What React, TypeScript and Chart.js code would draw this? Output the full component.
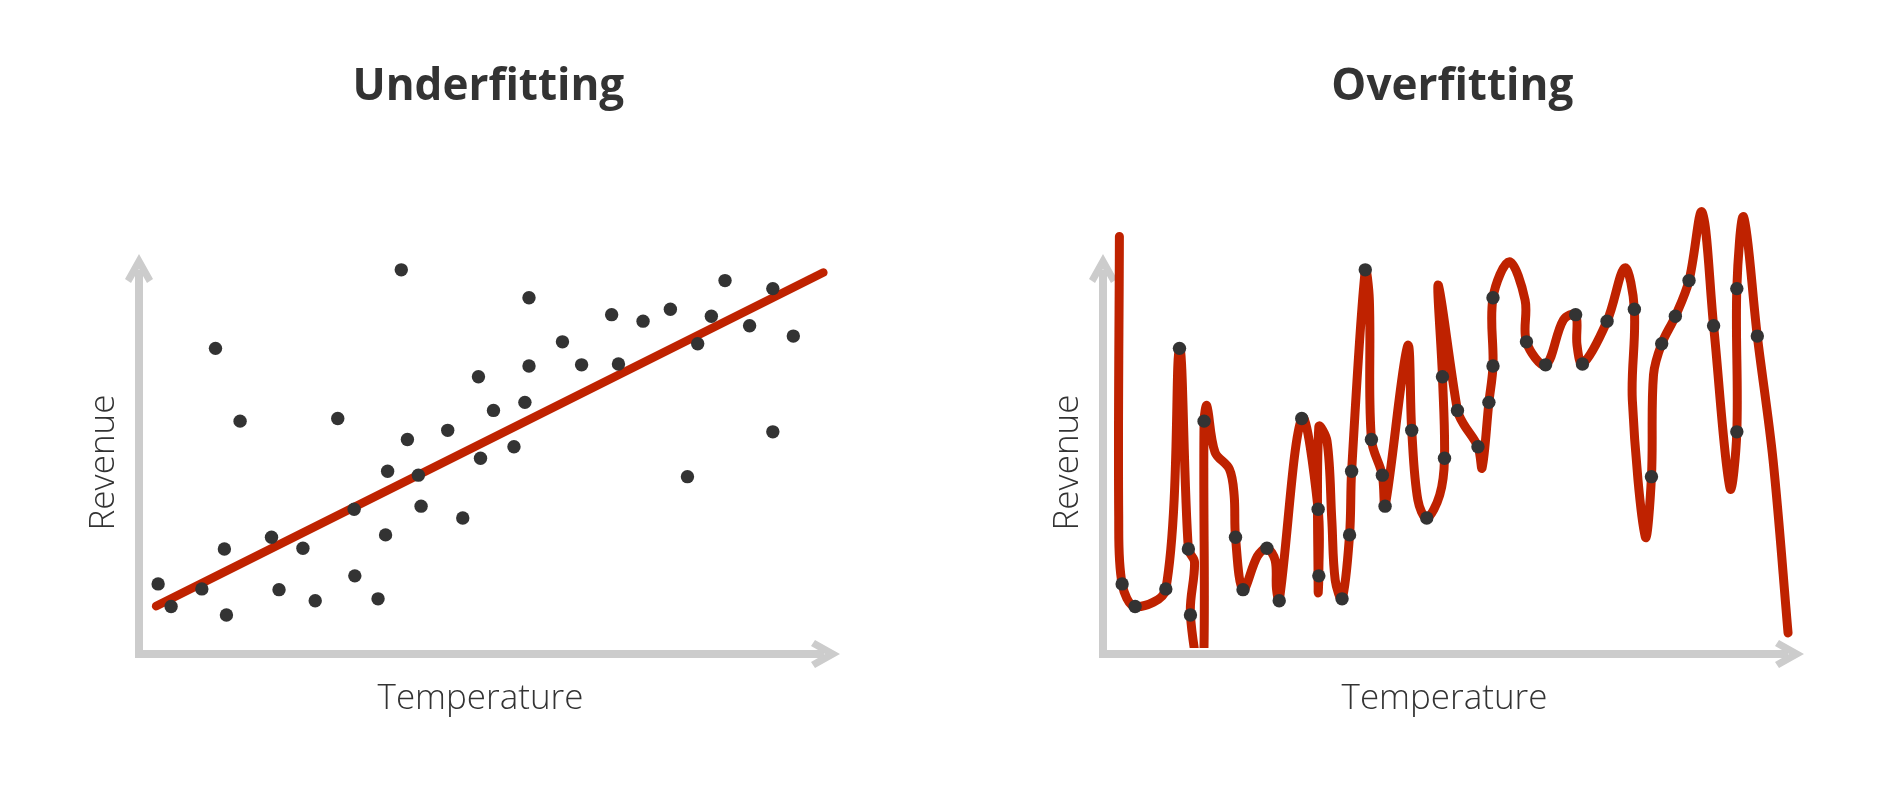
import React, { useEffect, useRef } from 'react';
import { Chart, registerables } from 'chart.js';

Chart.register(...registerables);

// ---- data ----
const chartTitles = ['Underfitting', 'Overfitting'];
const xAxisTitle = 'Temperature';
const yAxisTitle = 'Revenue';

// observed samples (same in both panels)
const observedTemperature = [
  2.8, 4.7, 9.2, 11.2, 12.5, 12.8, 14.8, 19.4, 20.5, 24.0, 25.8, 29.1, 31.5, 31.6, 35.0,
  36.1, 36.4, 38.4, 39.3, 40.9, 41.3, 45.2, 47.4, 49.7, 50.0, 51.9, 54.9, 56.5, 57.1, 57.1,
  62.0, 64.8, 69.2, 70.2, 73.8, 77.8, 80.3, 81.8, 83.8, 85.8, 89.4, 92.8, 92.8, 95.8,
];
const observedRevenue = [
  18.3, 12.4, 17.0, 79.8, 27.4, 10.2, 60.8, 30.5, 16.8, 27.6, 13.9, 61.5, 37.8, 20.4, 14.4,
  31.1, 47.7, 100.3, 56.0, 46.7, 38.6, 58.4, 35.5, 72.4, 51.1, 63.6, 54.1, 65.7, 75.2, 93.0,
  81.5, 75.5, 88.6, 75.7, 86.9, 90.0, 46.3, 81.0, 88.2, 97.5, 85.7, 95.4, 58.0, 83.0,
];

// underfit: straight line
const fitTemperature = [2.5, 100.2];
const fitRevenue = [12.5, 99.6];

// overfit: wiggly curve through every sample
const overfitTemperature = [
  2.4, 2.3, 2.8, 4.7, 9.2, 11.2, 12.5, 13.4, 12.8, 14.6, 14.8, 15.2, 16.4, 18.5, 19.2, 19.4,
  20.5, 22.6, 24.0, 25.2, 25.4, 25.8, 29.1, 31.5, 31.6, 31.5, 31.6, 32.8, 33.5, 34.0, 35.0,
  36.1, 36.4, 38.4, 39.0, 39.3, 40.9, 41.3, 44.6, 45.2, 46.1, 47.4, 49.3, 50.0, 49.7, 49.1,
  51.9, 52.7, 54.9, 55.5, 56.5, 57.1, 57.1, 59.5, 61.8, 62.0, 64.8, 67.4, 69.2, 69.4, 70.2,
  73.8, 76.4, 77.8, 77.5, 79.4, 80.3, 80.6, 81.8, 83.8, 85.8, 87.7, 89.4, 91.8, 92.8, 92.8,
  93.8, 95.8, 98.1, 100.3,
];
const overfitRevenue = [
  109.0, 35.9, 18.3, 12.4, 17.0, 79.8, 27.4, 24.0, 10.2, -8.0, 60.8, 64.8, 52.7, 48.3, 41.5, 30.5,
  16.8, 25.5, 27.6, 24.5, 17.0, 13.9, 61.5, 37.8, 20.4, 16.2, 59.3, 55.6, 35.0, 19.3, 14.4,
  31.1, 47.7, 100.3, 92.4, 56.0, 46.7, 38.6, 80.4, 58.4, 40.2, 35.5, 41.5, 51.1, 72.4, 96.3,
  63.6, 60.3, 54.1, 48.6, 65.7, 75.2, 93.0, 102.4, 92.4, 81.5, 75.5, 87.2, 88.6, 80.7, 75.7,
  86.9, 100.8, 90.0, 66.3, 30.6, 46.3, 72.9, 81.0, 88.2, 97.5, 115.4, 85.7, 43.3, 58.0, 95.4,
  114.1, 83.0, 50.7, 5.5,
];

// ---- styles ----
const TEXT_COLOR = '#333333';
const DOT_COLOR = '#333333';
const FIT_COLOR = '#bf2200';
const AXIS_COLOR = '#cccccc';
const FONT = "'Open Sans', sans-serif";

const toPoints = (xs: number[], ys: number[]) => xs.map((x, i) => ({ x, y: ys[i] }));

const arrowAxes = {
  id: 'arrowAxes',
  beforeDatasetsDraw(chart: any) {
    const { ctx, chartArea: a } = chart;
    const w = 8;
    const ox = a.left;
    const oy = a.bottom;
    const tipY = a.top - 17;
    const tipX = a.right + 18;
    ctx.save();
    ctx.strokeStyle = AXIS_COLOR;
    ctx.fillStyle = AXIS_COLOR;
    ctx.lineWidth = w;
    ctx.lineCap = 'butt';
    ctx.beginPath();
    ctx.moveTo(ox, oy + w / 2);
    ctx.lineTo(ox, tipY + 16);
    ctx.stroke();
    ctx.beginPath();
    ctx.moveTo(ox - w / 2, oy);
    ctx.lineTo(tipX - 16, oy);
    ctx.stroke();
    // chevron heads
    const head = (tx: number, ty: number, dx: number, dy: number) => {
      const px = -dy;
      const py = dx;
      const pts = [
        [0, 0], [25, 14], [29, 8], [15, 0], [29, -8], [25, -14],
      ];
      ctx.beginPath();
      pts.forEach(([d, p], i) => {
        const x = tx + dx * d + px * p;
        const y = ty + dy * d + py * p;
        if (i === 0) ctx.moveTo(x, y); else ctx.lineTo(x, y);
      });
      ctx.closePath();
      ctx.fill();
    };
    head(ox, tipY, 0, 1);
    head(tipX, oy, -1, 0);
    ctx.restore();
  },
};

function makeConfig(kind: 0 | 1): any {
  const dots = {
    type: 'scatter',
    data: toPoints(observedTemperature, observedRevenue),
    backgroundColor: DOT_COLOR,
    borderWidth: 0,
    pointRadius: 6.7,
    clip: false,
  };
  const curve =
    kind === 0
      ? {
          type: 'line',
          data: toPoints(fitTemperature, fitRevenue),
          borderColor: FIT_COLOR,
          borderWidth: 8.5,
          borderCapStyle: 'round',
          pointRadius: 0,
          tension: 0,
          clip: false,
        }
      : {
          type: 'line',
          data: toPoints(overfitTemperature, overfitRevenue),
          borderColor: FIT_COLOR,
          borderWidth: 9,
          borderCapStyle: 'round',
          borderJoinStyle: 'round',
          pointRadius: 0,
          tension: 0.35,
          capBezierPoints: false,
          clip: { left: false, top: false, right: false, bottom: -6 },
        };
  const axisFont = { family: FONT, size: 35, weight: 300, lineHeight: 1.2 };
  return {
    type: 'scatter',
    data: { datasets: [dots, curve] },
    plugins: [arrowAxes],
    options: {
      responsive: false,
      animation: false,
      devicePixelRatio: 1,
      font: { family: FONT },
      elements: { line: { capBezierPoints: false } },
      layout: { padding: { left: 40.6, right: 0, top: 0, bottom: 0 } },
      plugins: {
        legend: { display: false },
        tooltip: { enabled: false },
        title: {
          display: true,
          text: chartTitles[kind],
          color: TEXT_COLOR,
          font: { family: FONT, size: 44, weight: 'bold', lineHeight: 1.2 },
          padding: { top: 61.1, bottom: 157.1 },
        },
      },
      scales: {
        x: {
          type: 'linear',
          min: 0,
          max: 100,
          grid: { display: false, drawTicks: false },
          ticks: { display: false },
          border: { display: false },
          title: {
            display: true,
            text: xAxisTitle,
            color: TEXT_COLOR,
            font: axisFont,
            padding: { top: 24.3, bottom: 71.7 },
          },
        },
        y: {
          type: 'linear',
          min: 0,
          max: 100,
          grid: { display: false, drawTicks: false },
          ticks: { display: false },
          border: { display: false },
          title: {
            display: true,
            text: yAxisTitle,
            color: TEXT_COLOR,
            font: axisFont,
            padding: { top: 42.4, bottom: 14 },
          },
        },
        spacer: {
          type: 'linear',
          position: 'right',
          display: true,
          grid: { display: false, drawTicks: false },
          ticks: { display: false },
          border: { display: false },
          afterFit: (s: any) => {
            s.width = 114;
          },
        },
      },
    },
  };
}

function Panel({ kind, left }: { kind: 0 | 1; left: number }) {
  const ref = useRef<HTMLCanvasElement | null>(null);
  useEffect(() => {
    if (!ref.current) return;
    const chart = new Chart(ref.current, makeConfig(kind));
    return () => chart.destroy();
  }, [kind]);
  return (
    <canvas
      ref={ref}
      width={936}
      height={792}
      style={{ position: 'absolute', left, top: 0, width: 936, height: 792 }}
    />
  );
}

export default function App() {
  return (
    <div
      style={{
        position: 'fixed',
        left: 0,
        top: 0,
        width: 1900,
        height: 792,
        overflow: 'hidden',
        background: '#ffffff',
      }}
    >
      <Panel kind={0} left={0} />
      <Panel kind={1} left={964} />
    </div>
  );
}
